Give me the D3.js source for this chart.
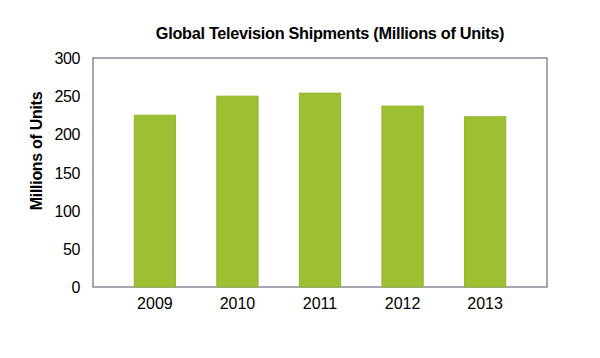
<!DOCTYPE html>
<html><head><meta charset="utf-8">
<script src="https://cdn.jsdelivr.net/npm/d3@7"></script>
<style>body{margin:0;background:#fff}svg{display:block}text{font-family:"Liberation Sans",Arial,sans-serif}</style>
</head><body>
<script>
const years = ["2009","2010","2011","2012","2013"];
const shipments = [225, 250, 254, 237, 223];
const yTicks = [0,50,100,150,200,250,300];
const title = "Global Television Shipments (Millions of Units)";
const yTitle = "Millions of Units";

const W=600,H=358, m={l:93,r:53,t:58,b:71};
const svg=d3.select("body").append("svg").attr("width",W).attr("height",H);
const x=d3.scaleBand().domain(years).range([m.l,W-m.r]).padding(0.5);
const y=d3.scaleLinear().domain([0,300]).range([H-m.b,m.t]);

svg.append("rect").attr("x",m.l).attr("y",m.t).attr("width",W-m.l-m.r).attr("height",H-m.t-m.b)
  .attr("fill","#fff").attr("stroke","#8a8a9c").attr("stroke-width",1.5);

svg.selectAll(".bar").data(shipments).join("rect")
  .attr("x",(d,i)=>x(years[i])).attr("width",x.bandwidth())
  .attr("y",d=>y(d)).attr("height",d=>y(0)-y(d))
  .attr("fill","#9dc033").attr("stroke","#8fb52a").attr("stroke-width",1);

const ya=svg.append("g").attr("transform",`translate(${m.l},0)`)
  .call(d3.axisLeft(y).tickValues(yTicks).tickSize(0).tickPadding(13));
ya.select(".domain").remove();
ya.selectAll("text").attr("font-size",16).attr("fill","#000").attr("font-family","Liberation Sans, Arial, sans-serif").attr("dy","0.35em").attr("letter-spacing","-0.4");

const xa=svg.append("g").attr("transform",`translate(0,${H-m.b})`)
  .call(d3.axisBottom(x).tickSize(0).tickPadding(11));
xa.select(".domain").remove();
xa.selectAll("text").attr("font-size",16).attr("fill","#000").attr("font-family","Liberation Sans, Arial, sans-serif");

svg.append("text").attr("x",330).attr("y",39).attr("text-anchor","middle")
  .attr("font-size",16.3).attr("font-weight","bold").attr("letter-spacing","-0.3").text(title);

svg.append("text").attr("transform","translate(42,151) rotate(-90)").attr("text-anchor","middle")
  .attr("font-size",16).attr("font-weight","bold").attr("letter-spacing","-0.3").text(yTitle);
</script>
</body></html>
